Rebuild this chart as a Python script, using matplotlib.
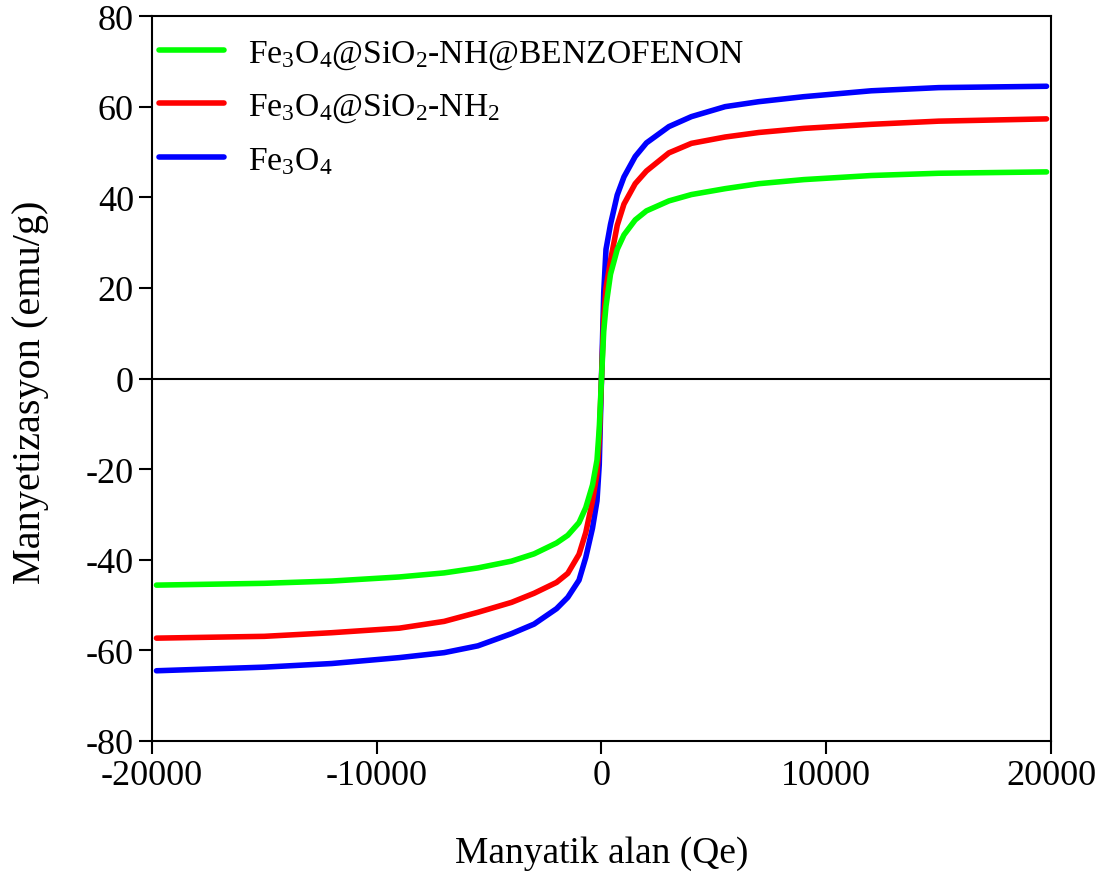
#!/usr/bin/env python3
"""Magnetization (VSM) curves of Fe3O4 based samples
"""

import matplotlib; matplotlib.use('Agg')
import matplotlib.pyplot as plt

# applied field (Oe), shared by all three series
field = [-19800, -15000, -12000, -9000, -7000, -5500, -4000, -3000, -2000,
         -1500, -1000, -700, -400, -200, -100, 0, 100, 200, 400, 700, 1000,
         1500, 2000, 3000, 4000, 5500, 7000, 9000, 12000, 15000, 19800]

m_fe3o4 = [-64.5, -63.7, -62.9, -61.6, -60.5, -59.0, -56.3, -54.2, -50.8,
           -48.3, -44.5, -39.5, -33.0, -27.0, -19.0, 0.0, 19.0, 28.5, 34.0,
           40.5, 44.5, 49.0, 52.0, 55.6, 57.8, 60.0, 61.1, 62.2, 63.5, 64.2,
           64.5]

m_nh2 = [-57.3, -56.9, -56.1, -55.1, -53.6, -51.6, -49.4, -47.4, -45.0,
         -43.0, -38.8, -34.0, -27.0, -21.0, -13.5, 0.0, 13.5, 20.0, 26.0,
         33.8, 38.5, 43.0, 45.8, 49.8, 51.9, 53.3, 54.3, 55.2, 56.1, 56.8,
         57.3]

m_benzo = [-45.6, -45.2, -44.7, -43.8, -42.9, -41.8, -40.3, -38.7, -36.3,
           -34.6, -31.8, -28.5, -23.5, -18.0, -11.0, 0.0, 10.5, 16.0, 23.0,
           28.5, 31.7, 35.0, 37.0, 39.2, 40.6, 41.9, 43.0, 43.9, 44.8, 45.3,
           45.6]

labels = [r'Fe$_3$O$_4$@SiO$_2$-NH@BENZOFENON',
          r'Fe$_3$O$_4$@SiO$_2$-NH$_2$',
          r'Fe$_3$O$_4$']
xticks = [-20000, -10000, 0, 10000, 20000]
yticks = [-80, -60, -40, -20, 0, 20, 40, 60, 80]

##########################################################
def main():
    plt.rcParams['font.family'] = ['Liberation Serif', 'DejaVu Serif']
    plt.rcParams['mathtext.fontset'] = 'custom'
    plt.rcParams['mathtext.rm'] = 'Liberation Serif'
    plt.rcParams['mathtext.it'] = 'Liberation Serif:italic'
    plt.rcParams['axes.unicode_minus'] = False

    fig = plt.figure(figsize=(11.06, 8.78), dpi=100)
    ax = fig.add_axes([0.1374, 0.1549, 0.8129, 0.8257])

    ax.axhline(0, color='black', lw=1.5, zorder=1)
    lb, = ax.plot(field, m_fe3o4, color='#0000ff', lw=4, solid_capstyle='round')
    lr, = ax.plot(field, m_nh2, color='#ff0000', lw=4, solid_capstyle='round')
    lg, = ax.plot(field, m_benzo, color='#00ff00', lw=4, solid_capstyle='round')

    ax.set_xlim(-20000, 20000)
    ax.set_ylim(-80, 80)
    ax.set_xticks(xticks)
    ax.set_yticks(yticks)
    ax.tick_params(direction='out', length=9.5, width=1.5, labelsize=26,
                   top=False, right=False)
    for s in ax.spines.values(): s.set_linewidth(1.5)

    ax.set_xlabel('Manyatik alan (Qe)', fontsize=27, labelpad=31)
    ax.set_ylabel('Manyetizasyon (emu/g)', fontsize=29)
    ax.yaxis.set_label_coords(-0.114, 0.483)

    leg = ax.legend([lg, lr, lb], labels, loc='upper left', frameon=False,
                    fontsize=24.2, handlelength=1.95, handletextpad=0.72,
                    labelspacing=0.62, borderpad=0.2, borderaxespad=0.0,
                    bbox_to_anchor=(0.0, 0.979))
    for h in leg.get_lines(): h.set_linewidth(4)

    fig.savefig('out.png', dpi=100)

##########################################################
if __name__ == "__main__":
    main()
